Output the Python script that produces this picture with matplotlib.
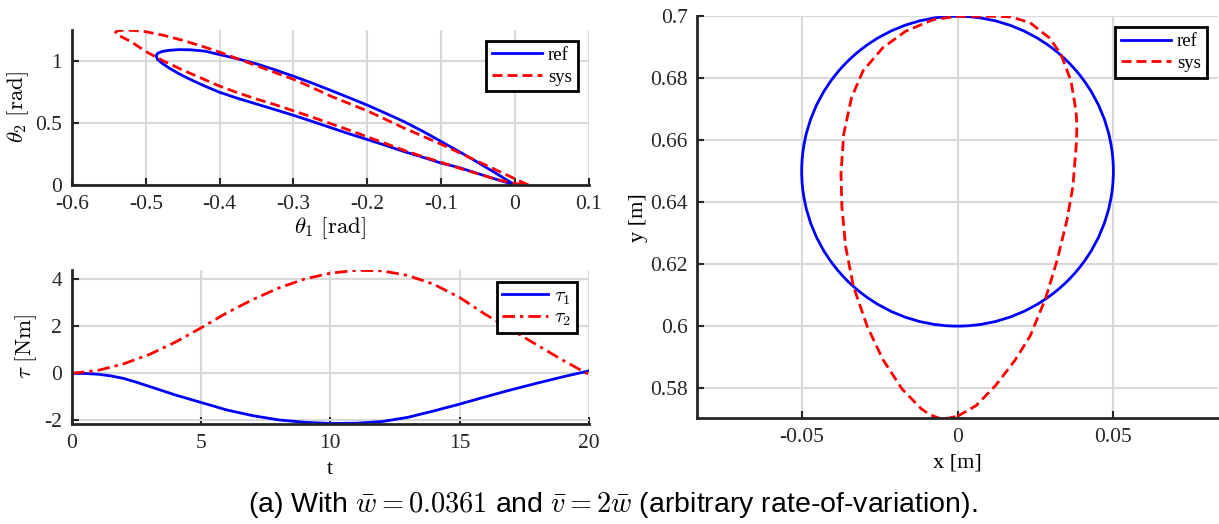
import matplotlib
matplotlib.use("Agg")
import matplotlib.pyplot as plt
from matplotlib.patches import Circle
from matplotlib.lines import Line2D

plt.rcParams['mathtext.fontset'] = 'cm'
plt.rcParams['font.family'] = ['Liberation Serif', 'DejaVu Serif']

# ---------------- data: joint space (theta1, theta2) ----------------
th1_ref = [0.000, -0.025, -0.050, -0.075, -0.100, -0.125, -0.150, -0.175, -0.200, -0.225,
           -0.250, -0.275, -0.300, -0.325, -0.350, -0.375, -0.400, -0.420, -0.440, -0.455,
           -0.468, -0.478, -0.484, -0.486, -0.484, -0.478, -0.468, -0.455, -0.440, -0.420,
           -0.400, -0.375, -0.350, -0.325, -0.300, -0.275, -0.250, -0.225, -0.200, -0.175,
           -0.150, -0.125, -0.100, -0.075, -0.050, -0.025, 0.000]
th2_ref = [0.000, 0.045, 0.092, 0.140, 0.177, 0.225, 0.270, 0.320, 0.368, 0.415,
           0.465, 0.515, 0.564, 0.610, 0.655, 0.700, 0.750, 0.800, 0.855, 0.900,
           0.945, 0.985, 1.015, 1.045, 1.065, 1.080, 1.090, 1.095, 1.094, 1.083,
           1.055, 1.020, 0.980, 0.932, 0.880, 0.825, 0.767, 0.707, 0.646, 0.580,
           0.512, 0.435, 0.352, 0.268, 0.182, 0.092, 0.000]
th1_sys = [0.018, 0.000, -0.025, -0.050, -0.075, -0.100, -0.125, -0.150, -0.175, -0.200,
           -0.225, -0.250, -0.275, -0.300, -0.325, -0.350, -0.375, -0.400, -0.425, -0.450,
           -0.475, -0.500, -0.515, -0.530, -0.538, -0.541, -0.538, -0.530, -0.520, -0.500,
           -0.475, -0.450, -0.425, -0.400, -0.375, -0.350, -0.325, -0.300, -0.275, -0.250,
           -0.225, -0.200, -0.175, -0.150, -0.125, -0.100, -0.075, -0.050, -0.025, 0.000,
           0.018]
th2_sys = [0.000, 0.050, 0.120, 0.190, 0.260, 0.330, 0.395, 0.460, 0.530, 0.600,
           0.660, 0.720, 0.790, 0.855, 0.910, 0.965, 1.020, 1.075, 1.125, 1.170,
           1.210, 1.240, 1.250, 1.253, 1.248, 1.235, 1.215, 1.190, 1.160, 1.080,
           1.000, 0.930, 0.865, 0.800, 0.745, 0.695, 0.650, 0.600, 0.550, 0.497,
           0.445, 0.390, 0.335, 0.280, 0.230, 0.183, 0.135, 0.090, 0.045, 0.012,
           0.000]

# ---------------- data: torques ----------------
t1 = [0, 0.5, 1, 1.5, 2, 2.5, 3, 3.5, 4, 5, 6, 7, 8, 9, 10, 11, 12, 13, 14, 15, 16, 17,
      18, 19, 20]
tau1 = [0.00, -0.01, -0.04, -0.11, -0.22, -0.38, -0.56, -0.74, -0.92, -1.24, -1.56, -1.80,
        -1.98, -2.08, -2.13, -2.12, -2.05, -1.87, -1.60, -1.31, -1.00, -0.70, -0.42, -0.15,
        0.10]
t2 = [0, 1, 2, 3, 4, 5, 6, 7, 8, 9, 10, 11, 12, 13, 14, 15, 16, 17, 18, 19, 20]
tau2 = [0.00, 0.12, 0.40, 0.80, 1.32, 1.93, 2.57, 3.13, 3.62, 4.00, 4.25,
        4.37, 4.35, 4.15, 3.78, 3.22, 2.50, 1.85, 1.20, 0.55, -0.05]

# ---------------- data: Cartesian (x, y) ----------------
ref_center = (0.0, 0.65)
ref_radius = 0.05
x_sys = [0.0000, 0.0059, 0.0121, 0.0183, 0.0233, 0.0283, 0.0320, 0.0351, 0.0370, 0.0382,
         0.0383, 0.0380, 0.0364, 0.0332, 0.0295, 0.0233, 0.0171, 0.0108, 0.0046, 0.0000,
         -0.0078, -0.0166, -0.0240, -0.0303, -0.0340, -0.0365, -0.0374, -0.0371, -0.0359,
         -0.0334, -0.0290, -0.0240, -0.0178, -0.0116, -0.0090, -0.0060, -0.0030, 0.0000]
y_sys = [0.5709, 0.5743, 0.5807, 0.5888, 0.5968, 0.6091, 0.6214, 0.6342, 0.6449, 0.6599,
         0.6650, 0.6695, 0.6791, 0.6877, 0.6930, 0.6979, 0.6998, 0.7000, 0.7000, 0.7000,
         0.6989, 0.6952, 0.6898, 0.6824, 0.6738, 0.6620, 0.6492, 0.6385, 0.6257,
         0.6128, 0.6000, 0.5893, 0.5797, 0.5733, 0.5715, 0.5703, 0.5703, 0.5709]

caption = r'(a) With $\bar{w}=0.0361$ and $\bar{v}=2\bar{w}$ (arbitrary rate-of-variation).'

BLUE = (0, 0, 1)
RED = (1, 0, 0)
DASH = (0, (3.6, 1.8))
DASHDOT = (0, (4.5, 1.8, 1.2, 1.8))
TICKFS = 15.5
LABFS = 16
MATHFS = 16.5

fig = plt.figure(figsize=(12.19, 5.24), dpi=100)


def style(ax):
    for s in ['top', 'right']:
        ax.spines[s].set_visible(False)
    for s in ['left', 'bottom']:
        ax.spines[s].set_linewidth(2.0)
        ax.spines[s].set_color('#262626')
    ax.tick_params(direction='in', length=5, width=1.5, colors='#262626',
                   labelsize=TICKFS, pad=7)
    ax.grid(True, color='#d9d9d9', linewidth=1.5)
    ax.set_axisbelow(True)


def legend(ax, handles=None, labels=None, fs=13.5, hl=2.7, ls=0.25, bp=0.3):
    kw = dict(loc='upper right', fancybox=False, framealpha=1, edgecolor='black',
              fontsize=fs, handlelength=hl, borderpad=bp, labelspacing=ls,
              handletextpad=0.3, borderaxespad=0.6)
    if handles is not None:
        lg = ax.legend(handles, labels, **kw)
    else:
        lg = ax.legend(**kw)
    lg.get_frame().set_linewidth(2.0)
    return lg


# top-left
ax1 = fig.add_axes([0.059, 0.647, 0.424, 0.296])
style(ax1)
ax1.plot(th1_ref, th2_ref, color=BLUE, lw=2, label='ref')
ax1.plot(th1_sys, th2_sys, color=RED, lw=2, ls=DASH, label='sys')
ax1.set_xlim(-0.6, 0.1)
ax1.set_ylim(0, 1.255)
ax1.set_xticks([-0.6, -0.5, -0.4, -0.3, -0.2, -0.1, 0, 0.1])
ax1.set_xticklabels(['-0.6', '-0.5', '-0.4', '-0.3', '-0.2', '-0.1', '0', '0.1'])
ax1.set_yticks([0, 0.5, 1])
ax1.set_yticklabels(['0', '0.5', '1'])
ax1.set_xlabel(r'$\theta_1\ \mathrm{[rad]}$', fontsize=MATHFS, labelpad=1)
ax1.set_ylabel(r'$\theta_2\ \mathrm{[rad]}$', fontsize=MATHFS, labelpad=3)
legend(ax1)

# bottom-left
ax2 = fig.add_axes([0.059, 0.191, 0.424, 0.294])
style(ax2)
ax2.plot(t1, tau1, color=BLUE, lw=2, label=r'$\tau_1$')
ax2.plot(t2, tau2, color=RED, lw=2, ls=DASHDOT, label=r'$\tau_2$')
ax2.set_xlim(0, 20)
ax2.set_ylim(-2.15, 4.39)
ax2.set_xticks([0, 5, 10, 15, 20])
ax2.set_yticks([-2, 0, 2, 4])
ax2.set_yticklabels(['-2', '0', '2', '4'])
ax2.set_xlabel('t', fontsize=LABFS, labelpad=5)
ax2.set_ylabel(r'$\tau\ \mathrm{[Nm]}$', fontsize=MATHFS, labelpad=4)
legend(ax2, fs=14.5, hl=2.3, ls=0.1, bp=0.25)

# right
ax3 = fig.add_axes([0.572, 0.202, 0.427, 0.767])
style(ax3)
ax3.add_patch(Circle(ref_center, ref_radius, fill=False, edgecolor=BLUE, lw=2))
ax3.plot(x_sys, y_sys, color=RED, lw=2, ls=DASH)
ax3.set_xlim(-0.0835, 0.0835)
ax3.set_ylim(0.5703, 0.7)
ax3.set_xticks([-0.05, 0, 0.05])
ax3.set_xticklabels(['-0.05', '0', '0.05'])
ax3.set_yticks([0.58, 0.6, 0.62, 0.64, 0.66, 0.68, 0.7])
ax3.set_yticklabels(['0.58', '0.6', '0.62', '0.64', '0.66', '0.68', '0.7'])
ax3.set_xlabel('x [m]', fontsize=LABFS, labelpad=5)
ax3.set_ylabel('y [m]', fontsize=LABFS, labelpad=1)
legend(ax3, [Line2D([], [], color=BLUE, lw=2), Line2D([], [], color=RED, lw=2, ls=DASH)],
       ['ref', 'sys'])

fig.text(0.503, 0.022, caption, ha='center', va='baseline', fontsize=20.5,
         family=['Liberation Sans', 'DejaVu Sans'])

fig.savefig('out.png', dpi=100)
